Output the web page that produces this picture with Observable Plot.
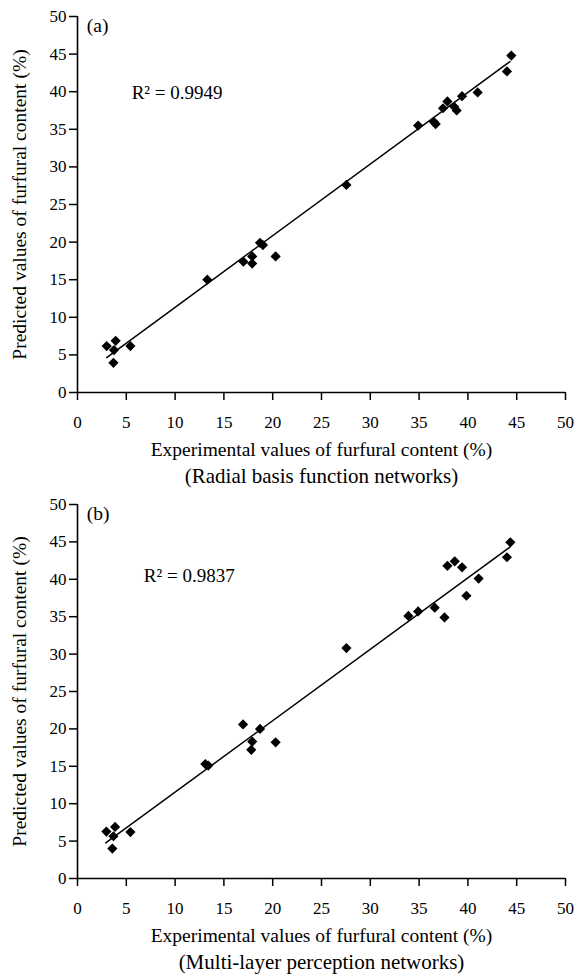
<!DOCTYPE html>
<html><head><meta charset="utf-8">
<script src="https://cdn.jsdelivr.net/npm/d3@7"></script>
<script src="https://cdn.jsdelivr.net/npm/@observablehq/plot@0.6"></script>
<style>body{margin:0;background:#fff;} svg{display:block;overflow:visible;}</style>
</head><body><div id="chart"></div>
<script>
// Panel (a): Radial basis function networks
const rbfExperimental = [2.99, 3.91, 3.74, 3.68, 5.42, 13.3, 17.0, 17.9, 17.9, 18.7, 19.0, 20.3, 27.55, 34.9, 36.5, 36.7, 37.45, 37.9, 38.6, 38.85, 39.4, 41.0, 44.0, 44.45];
const rbfPredicted    = [6.17, 6.87, 5.64, 3.95, 6.17, 15.0, 17.4, 18.1, 17.15, 19.9, 19.6, 18.1, 27.6, 35.5, 36.0, 35.7, 37.8, 38.7, 38.0, 37.5, 39.4, 39.9, 42.7, 44.8];
const rbfFitX = [2.99, 44.3];
const rbfFitY = [4.65, 44.0];
const rbfR2 = "R² = 0.9949";

// Panel (b): Multi-layer perception networks
const mlpExperimental = [2.96, 3.85, 3.68, 3.57, 5.42, 13.1, 13.4, 16.96, 17.9, 17.8, 18.7, 20.3, 27.55, 33.9, 34.9, 36.6, 37.6, 37.9, 38.65, 39.4, 39.85, 41.1, 44.0, 44.35];
const mlpPredicted    = [6.28, 6.9, 5.65, 4.0, 6.2, 15.3, 15.1, 20.6, 18.3, 17.2, 20.0, 18.2, 30.8, 35.1, 35.7, 36.2, 34.9, 41.8, 42.4, 41.6, 37.8, 40.1, 42.95, 44.95];
const mlpFitX = [2.89, 44.3];
const mlpFitY = [4.76, 44.3];
const mlpR2 = "R² = 0.9837";

const tickValues = [0, 5, 10, 15, 20, 25, 30, 35, 40, 45, 50];
const xLabel = "Experimental values of furfural content (%)";
const yLabel = "Predicted values of furfural content (%)";

const FONT = "'Liberation Serif', 'Times New Roman', serif";

function panel({xs, ys, fx, fy, r2, r2x, r2y, tag, subtitle, height, marginBottom}) {
  const pts = xs.map((x, i) => ({x, y: ys[i]}));
  const fit = fx.map((x, i) => ({x, y: fy[i]}));
  return Plot.plot({
    width: 577, height,
    marginLeft: 77, marginRight: 12, marginTop: 16, marginBottom,
    style: {fontFamily: FONT, color: "#000", background: "transparent", overflow: "visible"},
    x: {domain: [0, 50]},
    y: {domain: [0, 50]},
    marks: [
      Plot.axisX({ticks: tickValues, tickSize: 8, tickPadding: 15, fontSize: 17, strokeWidth: 1.5, label: null, tickFormat: d => d}),
      Plot.axisY({ticks: tickValues, tickSize: 8, tickPadding: 3, fontSize: 17, strokeWidth: 1.5, label: null, tickFormat: d => d}),
      Plot.ruleX([0], {y1: 0, y2: 50, strokeWidth: 1.6}),
      Plot.ruleY([0], {x1: 0, x2: 50, strokeWidth: 1.6}),
      Plot.line(fit, {x: "x", y: "y", stroke: "#000", strokeWidth: 1.5}),
      Plot.dot(pts, {x: "x", y: "y", symbol: "diamond2", r: 4.6, fill: "#000", stroke: "none"}),
      Plot.text([r2], {x: r2x, y: r2y, text: d => d, textAnchor: "start", fontSize: 19}),
      Plot.text([tag], {x: 0.95, y: 48.8, text: d => d, textAnchor: "start", fontSize: 19.5}),
      Plot.text([xLabel], {frameAnchor: "bottom", textAnchor: "middle", dy: 63, text: d => d, fontSize: 19.5}),
      Plot.text([subtitle], {frameAnchor: "bottom", textAnchor: "middle", dy: 90, text: d => d, fontSize: 21}),
      Plot.text([yLabel], {frameAnchor: "left", textAnchor: "middle", dx: -58, rotate: -90, text: d => d, fontSize: 19.5})
    ]
  });
}

const root = document.getElementById("chart");
root.appendChild(panel({xs: rbfExperimental, ys: rbfPredicted, fx: rbfFitX, fy: rbfFitY, r2: rbfR2, r2x: 5.55, r2y: 39.85, tag: "(a)", subtitle: "(Radial basis function networks)", height: 488, marginBottom: 96}));
root.appendChild(panel({xs: mlpExperimental, ys: mlpPredicted, fx: mlpFitX, fy: mlpFitY, r2: mlpR2, r2x: 6.8, r2y: 40.5, tag: "(b)", subtitle: "(Multi-layer perception networks)", height: 489, marginBottom: 99}));
</script>
</body></html>
